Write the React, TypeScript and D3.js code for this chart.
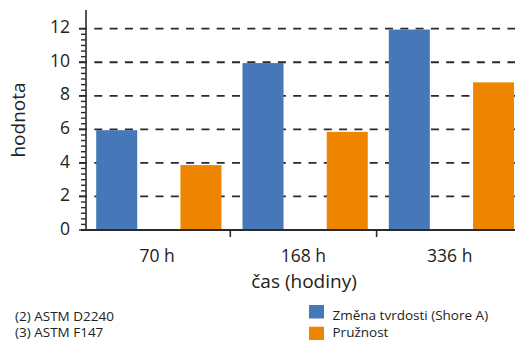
import React from "react";
import * as d3 from "d3";

// Aging time categories and measured values
const categories = ["70 h", "168 h", "336 h"];
const seriesNames = ["Změna tvrdosti (Shore A)", "Pružnost"];
const hardnessChange = [5.95, 9.95, 11.95];
const elasticity = [3.87, 5.85, 8.8];
const yTickValues = [0, 2, 4, 6, 8, 10, 12];
const footnotes = ["(2) ASTM D2240", "(3) ASTM F147"];

const W = 515;
const H = 340;
const FONT = "'Open Sans', 'Noto Sans', sans-serif";
const COLORS = ["#4677b8", "#ee8500"];
const INK = "#2a2a2a";

export default function App() {
  const axisX = 86;
  const y = d3.scaleLinear().domain([0, 12]).range([230, 28.7]);
  const yTop = 10;

  const x = d3.scaleBand<string>().domain(categories).range([84, 84 + 3 * 146.3]).paddingInner(0).paddingOuter(0);
  const xSub = d3
    .scaleBand<string>()
    .domain(seriesNames)
    .range([0, x.bandwidth()])
    .paddingInner(0.513)
    .paddingOuter(0.125)
    .align(0.58);

  const series = [hardnessChange, elasticity];
  const minorTicks = d3.range(0, 36 + 1).map((i) => i / 3);

  const rows = categories.flatMap((c, ci) =>
    seriesNames.map((s, si) => ({ c, s, si, v: series[si][ci] }))
  );

  const boundaries = categories.slice(1).map((c) => x(c) as number);

  return (
    <svg width={W} height={H} style={{ display: "block", position: "absolute", left: 0, top: 0 }} fontFamily={FONT}>
      <rect width={W} height={H} fill="#fff" />

      {/* dashed grid lines at major ticks */}
      {yTickValues.filter((v) => v > 0).map((v) => (
        <line
          key={"g" + v}
          x1={79}
          x2={W}
          y1={y(v)}
          y2={y(v)}
          stroke={INK}
          strokeWidth={1.8}
          strokeDasharray="8 7.3"
        />
      ))}

      {/* bars */}
      {rows.map((r) => (
        <rect
          key={r.c + r.si}
          x={(x(r.c) as number) + (xSub(r.s) as number)}
          y={y(r.v)}
          width={xSub.bandwidth()}
          height={y(0) - y(r.v)}
          fill={COLORS[r.si]}
        />
      ))}

      {/* y axis */}
      <line x1={axisX} x2={axisX} y1={yTop} y2={y(0)} stroke={INK} strokeWidth={1.6} />
      {minorTicks.map((v, i) => (
        <line
          key={"m" + i}
          x1={i % 6 === 0 ? 79 : 81}
          x2={axisX}
          y1={y(v)}
          y2={y(v)}
          stroke={INK}
          strokeWidth={1.4}
        />
      ))}
      {yTickValues.map((v) => (
        <text
          key={"yl" + v}
          x={70}
          y={y(v) + 4.6}
          textAnchor="end"
          fontSize={17.5}
          fill="#222"
        >
          {v}
        </text>
      ))}

      {/* x axis */}
      <line x1={81} x2={W} y1={y(0)} y2={y(0)} stroke={INK} strokeWidth={1.8} />
      {boundaries.map((bx, i) => (
        <line key={"xt" + i} x1={bx} x2={bx} y1={y(0)} y2={y(0) + 7} stroke={INK} strokeWidth={1.6} />
      ))}
      {categories.map((c) => (
        <text
          key={"xl" + c}
          x={(x(c) as number) + x.bandwidth() / 2}
          y={261.5}
          textAnchor="middle"
          fontSize={17.5}
          fill="#222"
        >
          {c}
        </text>
      ))}

      {/* axis titles */}
      <text x={304} y={288} textAnchor="middle" fontSize={19} fill="#222">
        čas (hodiny)
      </text>
      <text
        transform={`translate(25, ${(yTop + y(0)) / 2}) rotate(-90)`}
        textAnchor="middle"
        fontSize={19}
        fill="#222"
      >
        hodnota
      </text>

      {/* footnotes */}
      {footnotes.map((f, i) => (
        <text key={f} x={15} y={321 + i * 15.5} fontSize={13.5} fill="#222">
          {f}
        </text>
      ))}

      {/* legend */}
      {seriesNames.map((s, i) => (
        <g key={s}>
          <rect x={309} y={305 + i * 21.7} width={15} height={13.5} fill={COLORS[i]} />
          <text x={332.5} y={320 + i * 16.5} fontSize={13.5} fill="#222">
            {s}
          </text>
        </g>
      ))}
    </svg>
  );
}
